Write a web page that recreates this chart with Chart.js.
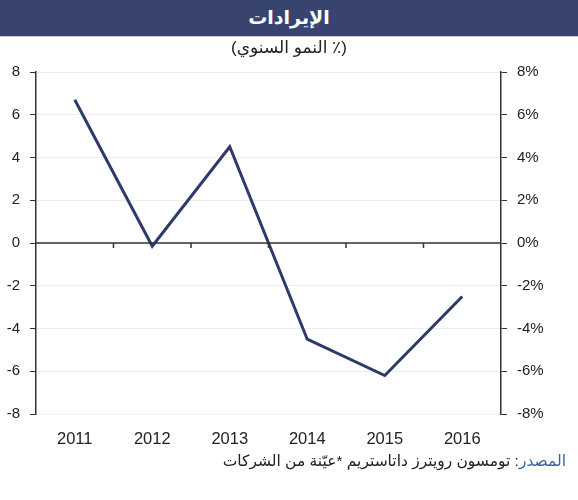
<!DOCTYPE html>
<html>
<head>
<meta charset="utf-8">
<script src="https://cdn.jsdelivr.net/npm/chart.js@4"></script>
<style>
  html, body { margin:0; padding:0; background:#fff; }
  #wrap { position:relative; width:578px; height:500px; overflow:hidden; font-family:"Liberation Sans","DejaVu Sans",Arial,sans-serif; }
  #header { position:absolute; left:0; top:0; width:578px; height:36px; background:#39436f; color:#fff; font-weight:bold; font-size:19px; text-align:center; line-height:36px; direction:rtl; border-bottom:1px solid #c8cde0; }
  #sub { position:absolute; left:0; top:38px; width:578px; text-align:center; font-size:17px; color:#222; direction:rtl; line-height:20px; }
  #src { position:absolute; right:12px; top:451px; font-size:15.5px; color:#222; direction:rtl; line-height:20px; }
  #src span { color:#3a62a8; }
  canvas { position:absolute; left:0; top:0; }
</style>
</head>
<body>
<div id="wrap">
  <canvas id="c" width="578" height="500"></canvas>
  <div id="header">الإيرادات</div>
  <div id="sub">(٪ النمو السنوي)</div>
  <div id="src"><span>المصدر</span>: تومسون رويترز داتاستريم *عيّنة من الشركات</div>
</div>
<script>
const categories = ["2011", "2012", "2013", "2014", "2015", "2016"];
const revenueGrowth = [6.7, -0.15, 4.5, -4.5, -6.2, -2.5];
const yTicks = [-8, -6, -4, -2, 0, 2, 4, 6, 8];

const zeroLinePlugin = {
  id: 'zeroLine',
  afterDatasetsDraw(chart) {
    const ctx = chart.ctx;
    const x = chart.scales.x;
    const y = chart.scales.y;
    const area = chart.chartArea;
    const y0 = y.getPixelForValue(0);
    ctx.save();
    ctx.strokeStyle = '#333';
    ctx.lineWidth = 1.5;
    ctx.beginPath();
    ctx.moveTo(area.left, y0);
    ctx.lineTo(area.right, y0);
    ctx.stroke();
    for (let i = 1; i < categories.length; i++) {
      const px = (x.getPixelForValue(i - 1) + x.getPixelForValue(i)) / 2;
      ctx.beginPath();
      ctx.moveTo(px, y0);
      ctx.lineTo(px, y0 + 5);
      ctx.stroke();
    }
    ctx.restore();
  }
};

const yFont = { family: '"Liberation Sans", Arial, sans-serif', size: 15 };
const xFont = { family: '"Liberation Sans", Arial, sans-serif', size: 16.5 };

new Chart(document.getElementById('c'), {
  type: 'line',
  data: {
    labels: categories,
    datasets: [{
      data: revenueGrowth,
      borderColor: '#2e3a6e',
      borderWidth: 3,
      pointRadius: 0,
      tension: 0,
      fill: false
    }]
  },
  options: {
    responsive: false,
    animation: false,
    devicePixelRatio: 1,
    layout: { padding: { top: 72, bottom: 46, left: 0, right: 0 } },
    plugins: { legend: { display: false }, tooltip: { enabled: false } },
    scales: {
      x: {
        type: 'category',
        offset: true,
        grid: { display: false },
        border: { display: false },
        ticks: { color: '#222', font: xFont, padding: 8, maxRotation: 0 },
        afterFit(s) { s.height = 40; }
      },
      y: {
        position: 'left',
        min: -8, max: 8,
        afterBuildTicks(s) { s.ticks = yTicks.map(v => ({ value: v })); },
        ticks: { color: '#222', font: yFont, padding: 10 },
        grid: {
          color: 'rgba(0,0,0,0.07)',
          lineWidth: 1,
          tickColor: '#333',
          tickLength: 6,
          drawTicks: true
        },
        border: { display: true, color: '#333', width: 1.5 },
        afterFit(s) { s.width = 36; }
      },
      y2: {
        position: 'right',
        min: -8, max: 8,
        afterBuildTicks(s) { s.ticks = yTicks.map(v => ({ value: v })); },
        ticks: { color: '#222', font: yFont, padding: 10, callback: v => v + '%' },
        grid: { drawOnChartArea: false, tickColor: '#333', tickLength: 6 },
        border: { display: true, color: '#333', width: 1.5 },
        afterFit(s) { s.width = 77; }
      }
    }
  },
  plugins: [zeroLinePlugin]
});
</script>
</body>
</html>
